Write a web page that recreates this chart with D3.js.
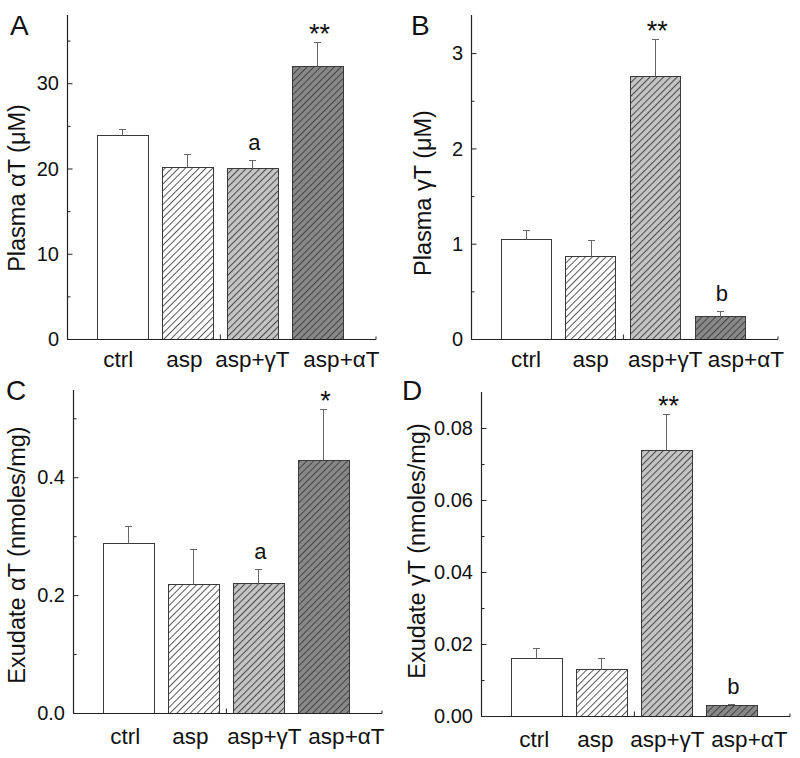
<!DOCTYPE html>
<html>
<head>
<meta charset="utf-8">
<script src="https://cdn.jsdelivr.net/npm/d3@7"></script>
<style>
  html, body { margin: 0; padding: 0; background: #fff; }
  svg { display: block; font-family: "Liberation Sans", Arial, sans-serif; }
</style>
</head>
<body>
<svg id="chart" width="800" height="758"></svg>
<script>
// ---------- data ----------
const categories = ["ctrl", "asp", "asp+\u03B3T", "asp+\u03B1T"];

const plasmaAlpha     = [23.9, 20.2, 20.0, 32.0];
const plasmaAlphaErr  = [0.75, 1.45, 1.05, 2.85];
const plasmaGamma     = [1.045, 0.87, 2.755, 0.24];
const plasmaGammaErr  = [0.095, 0.17, 0.395, 0.05];
const exudateAlpha    = [0.289, 0.219, 0.220, 0.429];
const exudateAlphaErr = [0.028, 0.060, 0.024, 0.087];
const exudateGamma    = [0.016, 0.013, 0.074, 0.003];
const exudateGammaErr = [0.003, 0.003, 0.010, 0.0004];

const annotA = ["", "", "a", "**"];
const annotB = ["", "", "**", "b"];
const annotC = ["", "", "a", "*"];
const annotD = ["", "", "**", "b"];

const ticksA = [0, 10, 20, 30];
const tickLabelsA = ["0", "10", "20", "30"];
const minorA = [5, 15, 25, 35];
const ticksB = [0, 1, 2, 3];
const tickLabelsB = ["0", "1", "2", "3"];
const minorB = [0.5, 1.5, 2.5];
const ticksC = [0, 0.2, 0.4];
const tickLabelsC = ["0.0", "0.2", "0.4"];
const minorC = [0.1, 0.3, 0.5];
const ticksD = [0, 0.02, 0.04, 0.06, 0.08];
const tickLabelsD = ["0.00", "0.02", "0.04", "0.06", "0.08"];
const minorD = [0.01, 0.03, 0.05, 0.07];

const yTitles = ["Plasma \u03B1T (\u03BCM)", "Plasma \u03B3T (\u03BCM)",
                 "Exudate \u03B1T (nmoles/mg)", "Exudate \u03B3T (nmoles/mg)"];
const panelLetters = ["A", "B", "C", "D"];
const yMax = [38, 3.4, 0.548, 0.09];

// ---------- layout (pixels) ----------
const layout = [
  { left: 67,  right: 376, top: 15,  bottom: 339, titleX: 25,  titleY: 188, letterX: 10,  letterY: 35,  labelY: 367, labelDx: [-4, -3, 0, 24] },
  { left: 471, right: 778, top: 15,  bottom: 339, titleX: 431, titleY: 193, letterX: 411, letterY: 35,  labelY: 367, labelDx: [0, 0, 10, 26] },
  { left: 73,  right: 382, top: 390, bottom: 713, titleX: 25,  titleY: 555, letterX: 6,   letterY: 400, labelY: 744, labelDx: [-3, -3, 6, 23] },
  { left: 481, right: 790, top: 392, bottom: 716, titleX: 425, titleY: 551, letterX: 402, letterY: 400, labelY: 747, labelDx: [-2, -6, 1, 18] }
];

const panels = [
  { values: plasmaAlpha,  errs: plasmaAlphaErr,  annot: annotA, ticks: ticksA, tickLabels: tickLabelsA, minor: minorA },
  { values: plasmaGamma,  errs: plasmaGammaErr,  annot: annotB, ticks: ticksB, tickLabels: tickLabelsB, minor: minorB },
  { values: exudateAlpha, errs: exudateAlphaErr, annot: annotC, ticks: ticksC, tickLabels: tickLabelsC, minor: minorC },
  { values: exudateGamma, errs: exudateGammaErr, annot: annotD, ticks: ticksD, tickLabels: tickLabelsD, minor: minorD }
];

// ---------- styles ----------
const fills = [
  { bg: "#ffffff", line: null },
  { bg: "#ffffff", line: "#5a5a5a" },
  { bg: "#c4c4c4", line: "#484848" },
  { bg: "#888888", line: "#444444" }
];
const axisColor = "#222";

const svg = d3.select("#chart");
const defs = svg.append("defs");
fills.forEach((f, i) => {
  if (!f.line) return;
  const p = defs.append("pattern")
    .attr("id", "hatch" + i)
    .attr("patternUnits", "userSpaceOnUse")
    .attr("width", 4.8).attr("height", 4.8)
    .attr("patternTransform", "rotate(45)");
  p.append("rect").attr("width", 4.8).attr("height", 4.8).attr("fill", f.bg);
  p.append("line").attr("x1", 0.5).attr("y1", 0).attr("x2", 0.5).attr("y2", 4.8)
    .attr("stroke", f.line).attr("stroke-width", 1);
});
const fillOf = i => fills[i].line ? `url(#hatch${i})` : fills[i].bg;

panels.forEach((pd, pi) => {
  const L = layout[pi];
  const g = svg.append("g");
  const x = d3.scaleLinear().domain([0.15, 4.9]).range([L.left, L.right]);
  const y = d3.scaleLinear().domain([0, yMax[pi]]).range([L.bottom, L.top]);
  const bw = x(1.78) - x(1);

  // bars
  g.selectAll("rect.bar").data(pd.values).enter().append("rect")
    .attr("class", "bar")
    .attr("x", (d, i) => Math.round(x(i + 1) - bw / 2) + 0.5)
    .attr("y", d => Math.round(y(d)) + 0.5)
    .attr("width", Math.round(bw))
    .attr("height", d => Math.round(y(0)) - Math.round(y(d)))
    .attr("fill", (d, i) => fillOf(i))
    .attr("stroke", "#3a3a3a").attr("stroke-width", 1);

  // error bars (upper only)
  pd.values.forEach((v, i) => {
    const cx = Math.round(x(i + 1)) + 0.5;
    const yt = Math.round(y(v + pd.errs[i])) + 0.5;
    g.append("line").attr("x1", cx).attr("x2", cx)
      .attr("y1", Math.round(y(v)) + 0.5).attr("y2", yt)
      .attr("stroke", "#666").attr("stroke-width", 1);
    g.append("line").attr("x1", cx - 3.5).attr("x2", cx + 3.5)
      .attr("y1", yt).attr("y2", yt)
      .attr("stroke", "#666").attr("stroke-width", 1);
    const t = pd.annot[i];
    if (t) {
      const star = t.indexOf("*") >= 0;
      g.append("text")
        .attr("x", x(i + 1) + 2)
        .attr("y", star ? y(v + pd.errs[i]) + 1 : y(v + pd.errs[i]) - 10)
        .attr("text-anchor", "middle")
        .attr("font-size", star ? 27 : 22)
        .attr("fill", "#111")
        .text(t);
    }
  });

  // y axis
  const yAxis = d3.axisRight(y).tickValues(pd.ticks).tickSize(5).tickFormat("");
  const ya = g.append("g").attr("transform", `translate(${L.left + 0.5},0)`).call(yAxis);
  ya.select(".domain").remove();
  ya.selectAll("line").attr("stroke", axisColor);
  const yMinor = d3.axisRight(y).tickValues(pd.minor).tickSize(3).tickFormat("");
  const ym = g.append("g").attr("transform", `translate(${L.left + 0.5},0)`).call(yMinor);
  ym.select(".domain").remove();
  ym.selectAll("line").attr("stroke", axisColor);
  g.append("line").attr("x1", L.left + 0.5).attr("x2", L.left + 0.5)
    .attr("y1", L.top).attr("y2", Math.round(L.bottom) + 0.5)
    .attr("stroke", axisColor).attr("stroke-width", 1.2);
  g.selectAll("text.ytl").data(pd.ticks).enter().append("text")
    .attr("class", "ytl")
    .attr("x", L.left - 8)
    .attr("y", d => y(d))
    .attr("dy", "0.36em")
    .attr("text-anchor", "end")
    .attr("font-size", 20)
    .attr("fill", "#111")
    .text((d, i) => pd.tickLabels[i]);

  // x axis
  g.append("line").attr("x1", L.left).attr("x2", L.right)
    .attr("y1", Math.round(L.bottom) + 0.5).attr("y2", Math.round(L.bottom) + 0.5)
    .attr("stroke", axisColor).attr("stroke-width", 1.2);
  const xAxis = d3.axisTop(x).tickValues([2.5]).tickSize(5).tickFormat("");
  const xa = g.append("g").attr("transform", `translate(0,${Math.round(L.bottom) + 0.5})`).call(xAxis);
  xa.select(".domain").remove();
  xa.selectAll("line").attr("stroke", axisColor);
  const xMinor = d3.axisTop(x).tickValues([4.9]).tickSize(3).tickFormat("");
  const xm = g.append("g").attr("transform", `translate(-0.5,${Math.round(L.bottom) + 0.5})`).call(xMinor);
  xm.select(".domain").remove();
  xm.selectAll("line").attr("stroke", axisColor);

  g.selectAll("text.xl").data(categories).enter().append("text")
    .attr("class", "xl")
    .attr("x", (d, i) => x(i + 1) + L.labelDx[i])
    .attr("y", L.labelY)
    .attr("text-anchor", "middle")
    .attr("font-size", 22.5)
    .attr("fill", "#111")
    .text(d => d);

  // y title
  g.append("text")
    .attr("transform", `translate(${L.titleX},${L.titleY}) rotate(-90)`)
    .attr("text-anchor", "middle")
    .attr("font-size", 23.5)
    .attr("fill", "#111")
    .text(yTitles[pi]);

  // panel letter
  g.append("text")
    .attr("x", L.letterX).attr("y", L.letterY)
    .attr("font-size", 28)
    .attr("fill", "#111")
    .text(panelLetters[pi]);
});
</script>
</body>
</html>
